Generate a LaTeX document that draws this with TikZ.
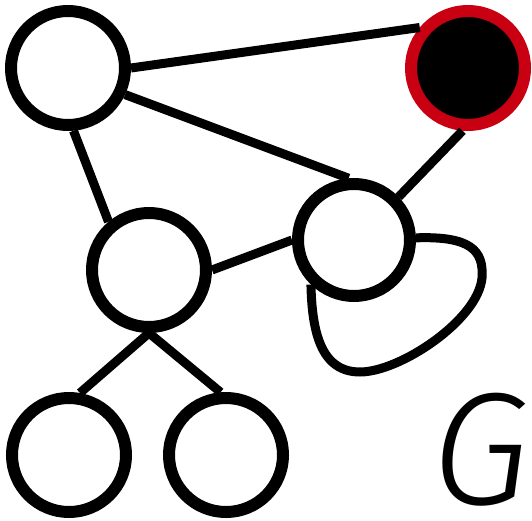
\documentclass[tikz,border=0pt]{standalone}
\usepackage{fontspec}
\newfontfamily\labelfont{Fira Sans}[ItalicFont={Fira Sans Light Italic}]
\definecolor{mRed}{RGB}{200,0,18}
\usetikzlibrary{positioning}

\begin{document}
\begin{tikzpicture}[x=1pt, y=-1pt,
    vtx/.style={circle, draw=black, fill=white, line width=12pt, minimum size=114pt, inner sep=0pt},
    hot/.style={vtx, draw=mRed, fill=black},
    edge/.style={line width=9pt}]
    \useasboundingbox (0,0) rectangle (532,521);

    % Vertices
    \node[vtx] (tl) at (68,68) {};
    \node[hot] (tr) at (468,68) {};
    \node[vtx, minimum size=112pt] (mr) at (354,240) {};
    \node[vtx] (ml) at (149,270) {};
    \node[vtx] (bl) at (69,455) {};
    \node[vtx] (bm) at (226,455) {};

    % Edges
    \draw[edge] (tl.east) -- (tr.140);
    \draw[edge] (tl.-25) -- (mr.95);
    \draw[edge] (tr.-95) -- (mr.44);
    \draw[edge] (tl.-85) -- (ml.130);
    \draw[edge] (ml.east) -- (mr.west);
    \draw[edge] (ml.south) -- (bl.80);
    \draw[edge] (ml.south) -- (bm.95);

    % Loop on the right vertex
    \draw[edge] (mr.2) .. controls (470,236) and (484,250) .. (482,278)
        .. controls (478,320) and (400,372) .. (360,372)
        .. controls (320,372) and (312,330) .. (mr.-134);

    % Graph name
    \node[font=\labelfont\itshape\fontsize{160}{160}\selectfont] (name) at (481,450) {G};
\end{tikzpicture}
\end{document}
